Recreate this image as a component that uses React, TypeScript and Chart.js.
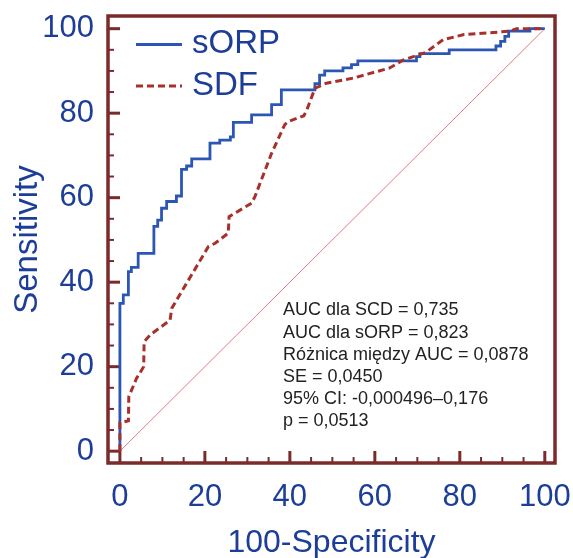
import React, { useEffect, useRef } from "react";
import { Chart, registerables } from "chart.js";
Chart.register(...registerables);

const tickValues = [0, 20, 40, 60, 80, 100];
const seriesNames = ["sORP", "SDF"];
const xTitle = "100-Specificity";
const yTitle = "Sensitivity";
const statLines = [
  "AUC dla SCD = 0,735",
  "AUC dla sORP = 0,823",
  "Różnica między AUC = 0,0878",
  "SE = 0,0450",
  "95% CI: -0,000496–0,176",
  "p = 0,0513",
];

const sorpPoints: number[][] = [
  [0, 0], [0, 35], [0.8, 35], [0.8, 37], [2, 37], [2, 42.5], [2.7, 42.5], [2.7, 43.5],
  [4.3, 43.5], [4.3, 46.8], [8, 46.8], [8, 53.2], [8.9, 53.2], [8.9, 54.7], [9.8, 54.7],
  [9.8, 57.5], [11, 57.5], [11, 59.1], [13.3, 59.1], [13.3, 60.4], [14.5, 60.4], [14.5, 66.7],
  [15.7, 66.7], [15.7, 67.5], [16.9, 67.5], [16.9, 69.2], [21.2, 69.2], [21.2, 72.9],
  [23.5, 72.9], [23.5, 73.6], [26, 73.6], [26, 74.4], [26.7, 74.4], [26.7, 77.8], [31, 77.8],
  [31, 79.6], [35.7, 79.6], [35.7, 82], [38, 82], [38, 85.5], [45.9, 85.5], [45.9, 87],
  [47, 87], [47, 89], [48.2, 89], [48.2, 90], [52.5, 90], [52.5, 90.7], [54.5, 90.7],
  [54.5, 91.5], [56, 91.5], [56, 92.4], [69.8, 92.4], [69.8, 93.4], [70.6, 93.4], [70.6, 94.1],
  [77.5, 94.1], [77.5, 95], [88.5, 95], [88.5, 95.9], [89.6, 95.9], [89.6, 97], [90.6, 97],
  [90.6, 98.2], [91.5, 98.2], [91.5, 99.4], [96.5, 99.4], [96.5, 100], [100, 100],
];

const sdfPoints: number[][] = [
  [0, 0], [0, 6.7], [2, 7.2], [2.1, 12.9], [3.9, 17.2], [5.6, 20], [5.7, 25.9], [7.1, 27.5],
  [11.8, 31], [12.2, 33.8], [20.8, 48.4], [22.4, 49.2], [25.5, 51.6], [25.7, 55.5], [31, 58.7],
  [31.8, 60.3], [35.7, 70.5], [38.8, 77.3], [39.6, 78], [43.3, 79.4], [44, 80.8], [45.9, 85.9],
  [48.6, 87.1], [54.9, 88.3], [63.5, 90.7], [66.5, 92.5], [72, 94.4], [76.1, 97.4], [81, 98.6],
  [91.8, 99.4], [93.3, 100], [100, 100],
];

const diagonalPoints: number[][] = [[0, 0], [100, 100]];

const FONT = "'Liberation Sans', Arial, sans-serif";
const BLUE = "#1d3e98";
const LINE_BLUE = "#2b56b3";
const RED = "#a8302b";
const FRAME = "#7a2b2a";

const decorPlugin = {
  id: "decor",
  beforeDatasetsDraw(chart: any) {
    const { ctx, chartArea: a, scales } = chart;
    const x = scales.x, y = scales.y;
    ctx.save();
    ctx.strokeStyle = FRAME;
    for (let v = 0; v <= 100; v += 5) {
      const major = v % 20 === 0;
      ctx.lineWidth = major ? 3 : 2;
      const len = major ? 12 : 6;
      const px = x.getPixelForValue(v);
      ctx.beginPath();
      ctx.moveTo(px, a.bottom);
      ctx.lineTo(px, a.bottom - len);
      ctx.stroke();
      const py = y.getPixelForValue(v);
      ctx.beginPath();
      ctx.moveTo(a.left, py);
      ctx.lineTo(a.left + len, py);
      ctx.stroke();
    }
    ctx.lineWidth = 3.5;
    ctx.strokeRect(a.left, a.top, a.right - a.left, a.bottom - a.top);
    ctx.restore();
  },
  afterDraw(chart: any) {
    const { ctx } = chart;
    ctx.save();
    ctx.lineWidth = 2.8;
    ctx.strokeStyle = LINE_BLUE;
    ctx.beginPath();
    ctx.moveTo(136, 44.5);
    ctx.lineTo(182, 44.5);
    ctx.stroke();
    ctx.strokeStyle = RED;
    ctx.lineWidth = 3;
    ctx.setLineDash([7, 4]);
    ctx.beginPath();
    ctx.moveTo(136, 86);
    ctx.lineTo(182, 86);
    ctx.stroke();
    ctx.setLineDash([]);
    ctx.fillStyle = BLUE;
    ctx.font = `33px ${FONT}`;
    ctx.textBaseline = "middle";
    ctx.textAlign = "left";
    ctx.fillText(seriesNames[0], 192, 44);
    ctx.fillText(seriesNames[1], 192, 86);
    ctx.fillStyle = "#222222";
    ctx.font = `18px ${FONT}`;
    statLines.forEach((t, i) => ctx.fillText(t, 283, 310.5 + i * 22.2));
    ctx.restore();
  },
};

const zeroPad = (s: any) => {
  s.paddingLeft = 0;
  s.paddingRight = 0;
  s.paddingTop = 0;
  s.paddingBottom = 0;
};

export default function App() {
  const ref = useRef<HTMLCanvasElement | null>(null);
  useEffect(() => {
    if (!ref.current) return;
    const toXY = (p: number[][]) => p.map(([x, y]) => ({ x, y }));
    const chart = new Chart(ref.current, {
      type: "scatter",
      data: {
        datasets: [
          {
            label: seriesNames[1],
            data: toXY(sdfPoints),
            showLine: true,
            borderColor: RED,
            borderWidth: 3,
            borderDash: [7, 4],
            pointRadius: 0,
            order: 0,
          },
          {
            label: seriesNames[0],
            data: toXY(sorpPoints),
            showLine: true,
            borderColor: LINE_BLUE,
            borderWidth: 2.8,
            pointRadius: 0,
            order: 1,
          },
          {
            label: "ref",
            data: toXY(diagonalPoints),
            showLine: true,
            borderColor: "#e27c7c",
            borderWidth: 1,
            pointRadius: 0,
            order: 2,
          },
        ],
      },
      options: {
        animation: false,
        responsive: false,
        devicePixelRatio: 1,
        layout: { padding: { top: 16, right: 18, left: 0, bottom: 0 } },
        plugins: { legend: { display: false }, tooltip: { enabled: false } },
        scales: {
          x: {
            type: "linear",
            min: -2.8,
            max: 102.4,
            afterBuildTicks: (s: any) => {
              s.ticks = tickValues.map((v) => ({ value: v }));
            },
            afterFit: (s: any) => {
              s.height = 95;
              zeroPad(s);
            },
            grid: { display: false, drawTicks: false },
            border: { display: false },
            ticks: {
              color: BLUE,
              font: { size: 31, family: FONT },
              padding: 16,
              maxRotation: 0,
              autoSkip: false,
              callback: (v: any) => String(v),
            },
            title: {
              display: true,
              text: xTitle,
              color: BLUE,
              font: { size: 32, family: FONT },
              padding: { top: 0, bottom: -4 },
            },
          },
          y: {
            type: "linear",
            min: -2.8,
            max: 103,
            afterBuildTicks: (s: any) => {
              s.ticks = tickValues.map((v) => ({ value: v }));
            },
            afterFit: (s: any) => {
              s.width = 108;
              zeroPad(s);
            },
            grid: { display: false, drawTicks: false },
            border: { display: false },
            ticks: {
              color: BLUE,
              font: { size: 31, family: FONT },
              padding: 14,
              autoSkip: false,
              callback: (v: any) => String(v),
            },
            title: {
              display: true,
              text: yTitle,
              color: BLUE,
              font: { size: 33, family: FONT },
              padding: { top: 8, bottom: 0 },
            },
          },
        },
      },
      plugins: [decorPlugin],
    } as any);
    return () => chart.destroy();
  }, []);
  return (
    <div style={{ position: "absolute", left: 0, top: 0, width: 573, height: 558, background: "#fff" }}>
      <canvas ref={ref} width={573} height={558} style={{ display: "block" }} />
    </div>
  );
}
